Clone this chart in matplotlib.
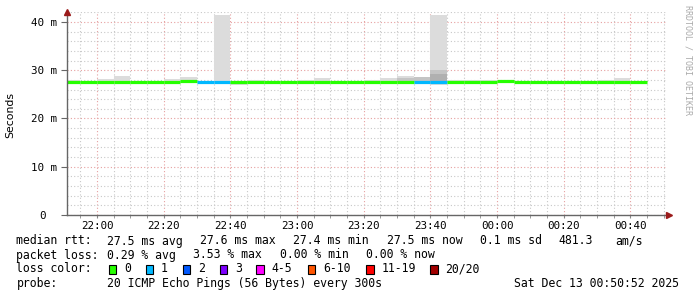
import datetime as dt
import matplotlib
matplotlib.use("Agg")
import matplotlib.pyplot as plt
import matplotlib.dates as mdates
from matplotlib.patches import Rectangle

# 5 minute bins (start time of each bin)
bin_times = ["21:50", "21:55", "22:00", "22:05", "22:10", "22:15", "22:20", "22:25",
             "22:30", "22:35", "22:40", "22:45", "22:50", "22:55", "23:00", "23:05",
             "23:10", "23:15", "23:20", "23:25", "23:30", "23:35", "23:40", "23:45",
             "23:50", "23:55", "00:00", "00:05", "00:10", "00:15", "00:20", "00:25",
             "00:30", "00:35", "00:40"]
median_ms = [27.6, 27.5, 27.5, 27.5, 27.5, 27.5, 27.5, 27.7,
             27.5, 27.5, 27.5, 27.5, 27.6, 27.5, 27.5, 27.5,
             27.5, 27.5, 27.5, 27.5, 27.5, 27.5, 27.6, 27.5,
             27.5, 27.5, 27.7, 27.5, 27.5, 27.6, 27.6, 27.5,
             27.5, 27.5, 27.5]
loss = [0, 0, 0, 0, 0, 0, 0, 0,
        1, 1, 0, 0, 0, 0, 0, 0,
        0, 0, 0, 0, 0, 1, 1, 0,
        0, 0, 0, 0, 0, 0, 0, 0,
        0, 0, 0]
smoke_lo = [27.3, 27.4, 27.4, 27.4, 27.4, 27.4, 27.4, 27.3,
            27.4, 27.4, 27.0, 27.4, 27.2, 27.4, 27.4, 27.4,
            27.4, 27.4, 27.4, 27.4, 27.4, 27.4, 27.0, 27.4,
            27.4, 27.4, 27.3, 27.4, 27.1, 27.3, 27.2, 27.4,
            27.4, 27.1, 27.4]
smoke_hi = [27.9, 27.6, 28.25, 28.8, 27.6, 27.6, 28.25, 28.6,
            27.6, 41.5, 27.7, 28.0, 27.7, 27.7, 28.0, 28.4,
            27.6, 27.6, 28.0, 28.4, 28.8, 28.6, 41.5, 28.0,
            28.0, 28.0, 27.8, 27.6, 27.8, 27.7, 27.8, 27.6,
            28.0, 28.4, 27.6]
# denser parts of the smoke
mid_times = ["23:30", "23:35", "23:40"]
mid_lo = [27.6, 27.6, 27.3]
mid_hi = [28.3, 28.5, 30.0]
dark_times = ["23:40"]
dark_lo = [27.85]
dark_hi = [29.2]

y_ticks = [0, 10, 20, 30, 40]
y_labels = ["0", "10 m", "20 m", "30 m", "40 m"]

loss_labels = ["0", "1", "2", "3", "4-5", "6-10", "11-19", "20/20"]
loss_colors = ["#26ff00", "#00b8ff", "#0059ff", "#7e00ff", "#ff00ff", "#ff5500", "#ff0000", "#a10000"]


def to_dt(hm):
    h, m = map(int, hm.split(":"))
    day = 12 if h >= 12 else 13
    return dt.datetime(2025, 12, day, h, m)


W, H = 697, 297
fig = plt.figure(figsize=(W / 100, H / 100), dpi=100)
fig.patch.set_facecolor("white")
ax = fig.add_axes([67 / W, 82 / H, 600 / W, 203 / H])

starts = [to_dt(t) for t in bin_times]
width = dt.timedelta(minutes=5)

# grid first
ax.xaxis.set_major_locator(mdates.MinuteLocator(byminute=[0, 20, 40]))
ax.xaxis.set_minor_locator(mdates.MinuteLocator(byminute=range(0, 60, 5)))
ax.xaxis.set_major_formatter(mdates.DateFormatter("%H:%M"))
ax.set_yticks(y_ticks, y_labels)
ax.set_yticks(range(0, 43, 2), minor=True)
ax.grid(which="minor", color="#c8c8c8", linestyle=(0, (1, 2)), linewidth=0.8)
ax.grid(which="major", color="#e6a0a0", linestyle=(0, (1, 2)), linewidth=0.8)
ax.set_axisbelow(True)

# smoke
ax.bar(starts, [h - l for h, l in zip(smoke_hi, smoke_lo)], bottom=smoke_lo,
       width=width, align="edge", color="#dcdcdc", linewidth=0, zorder=2)
ax.bar([to_dt(t) for t in mid_times], [h - l for h, l in zip(mid_hi, mid_lo)], bottom=mid_lo,
       width=width, align="edge", color="#c4c4c4", linewidth=0, zorder=2)
ax.bar([to_dt(t) for t in dark_times], [h - l for h, l in zip(dark_hi, dark_lo)], bottom=dark_lo,
       width=width, align="edge", color="#b0b0b0", linewidth=0, zorder=2)

# median line coloured by loss
ends = [s + width for s in starts]
ax.hlines(median_ms, starts, ends, colors=[loss_colors[l] for l in loss],
          linewidth=2.3, zorder=3)

ax.set_xlim(dt.datetime(2025, 12, 12, 21, 51), dt.datetime(2025, 12, 13, 0, 51))
ax.set_ylim(0, 42.07)

for s in ["top", "right"]:
    ax.spines[s].set_visible(False)
for s in ["left", "bottom"]:
    ax.spines[s].set_color("#666666")
    ax.spines[s].set_linewidth(1.0)
    ax.spines[s].set_zorder(4)

ax.tick_params(axis="x", which="both", length=2, color="#888888", labelsize=7.8, pad=2)
ax.tick_params(axis="y", which="major", length=4, color="#666666", labelsize=7.8, pad=3)
ax.tick_params(axis="y", which="minor", length=0)
for lbl in ax.get_xticklabels() + ax.get_yticklabels():
    lbl.set_family("DejaVu Sans Mono")
for tick in ax.yaxis.get_major_ticks():
    if tick.label1.get_text() == "0":
        tick.label1.set_x(-0.02)

# axis arrows
ax.plot([0], [1.0], marker="^", markersize=4, color="#9b1b1b", transform=ax.transAxes,
        clip_on=False, zorder=5)
ax.plot([1.004], [0], marker=">", markersize=4, color="#9b1b1b", transform=ax.transAxes,
        clip_on=False, zorder=5)

fig.text(10 / W, 1 - 115 / H, "Seconds", rotation=90, ha="center", va="center",
         fontsize=7.8, family="DejaVu Sans")
fig.text(688 / W, 1 - 5 / H, "RRDTOOL / TOBI OETIKER", rotation=270, ha="center", va="top",
         fontsize=6, family="DejaVu Sans Mono", color="#aaaaaa")

mono = dict(fontsize=8.3, family="DejaVu Sans Mono", va="center")


def put(x, y, s):
    fig.text(x / W, 1 - y / H, s, **mono)


row1 = [(16.5, "median rtt:"), (107, "27.5 ms avg"), (200, "27.6 ms max"),
        (293, "27.4 ms min"), (386.5, "27.5 ms now"), (480, "0.1 ms sd"),
        (558, "481.3"), (615, "am/s")]
row2 = [(16.5, "packet loss:"), (107, "0.29 % avg"), (193, "3.53 % max"),
        (280, "0.00 % min"), (366, "0.00 % now")]
for x, s in row1:
    put(x, 241, s)
for x, s in row2:
    put(x, 255, s)

put(16.5, 269, "loss color:")
box_x = [108.5, 145.5, 182.5, 220, 256, 307.5, 366, 430]
for bx, lab, col in zip(box_x, loss_labels, loss_colors):
    fig.patches.append(Rectangle((bx / W, 1 - 273.5 / H), 7.5 / W, 8.5 / H,
                                 transform=fig.transFigure, facecolor=col,
                                 edgecolor="black", linewidth=0.8))
    put(bx + 15.5, 269, lab)

put(16.5, 283.5, "probe:")
put(107, 283.5, "20 ICMP Echo Pings (56 Bytes) every 300s")
put(514, 283.5, "Sat Dec 13 00:50:52 2025")

fig.savefig("out.png", dpi=100)
